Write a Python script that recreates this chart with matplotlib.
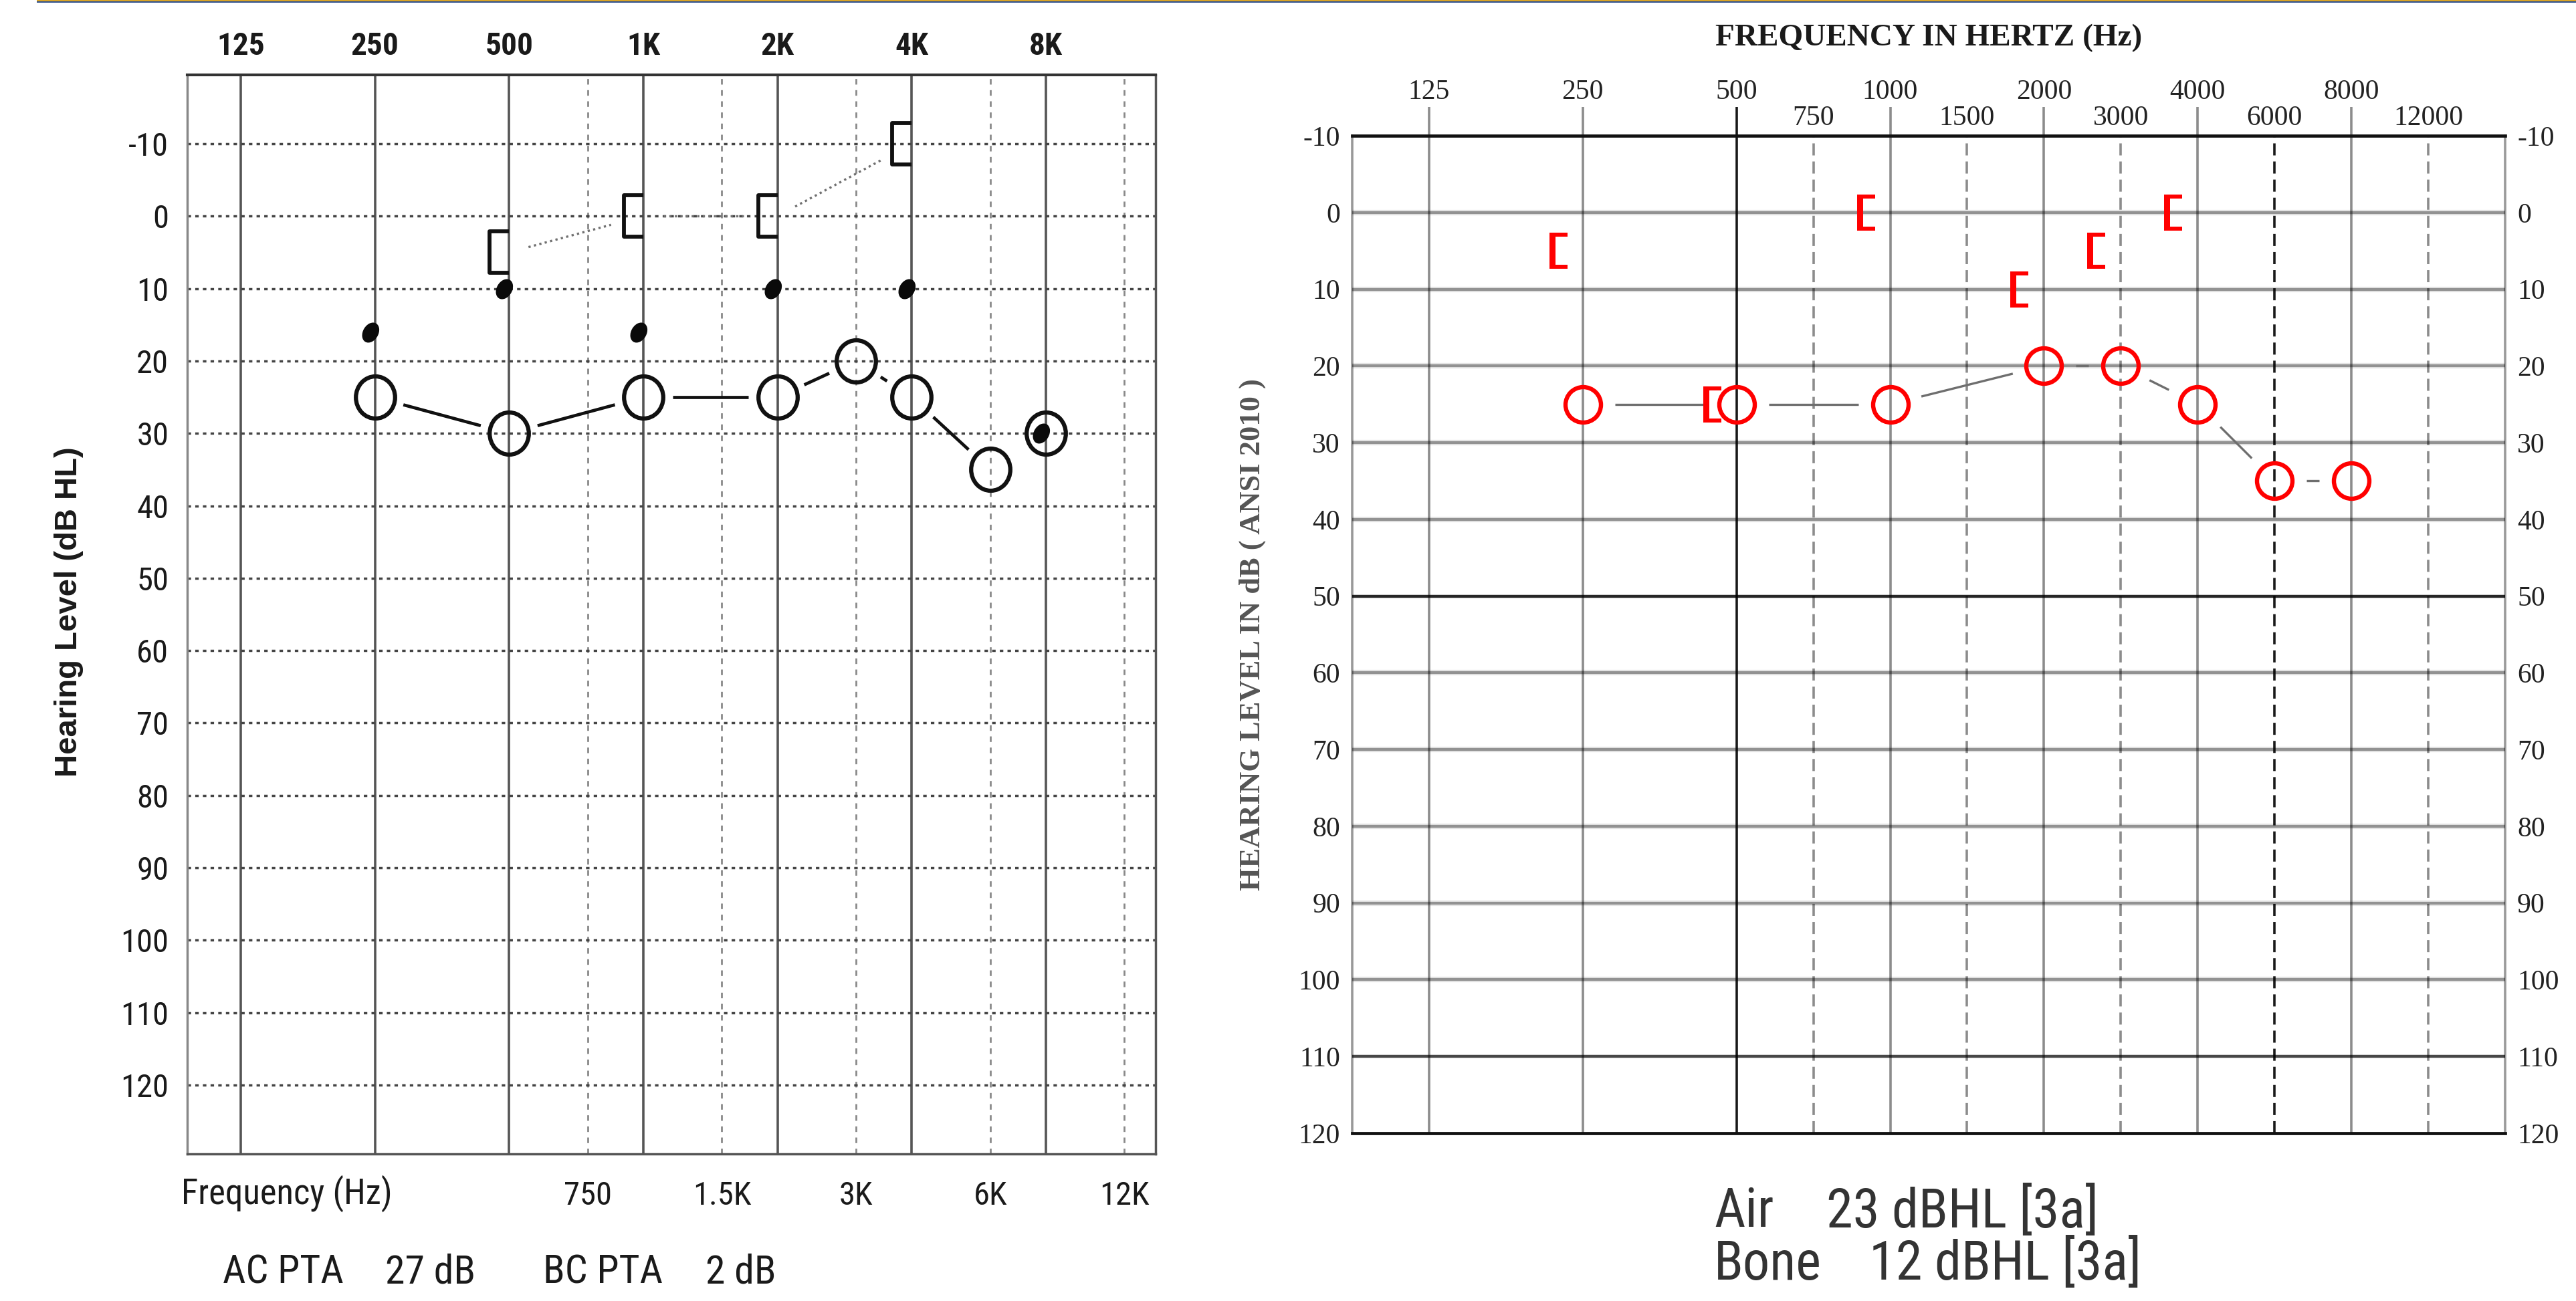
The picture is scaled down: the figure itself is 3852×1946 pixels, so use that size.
import numpy as np
import matplotlib
matplotlib.use('Agg')
import matplotlib.pyplot as plt
from matplotlib import font_manager as fm
from matplotlib.path import Path
from matplotlib.transforms import Affine2D
from matplotlib.patches import Rectangle

# ---------------- data ----------------
# Left audiogram (scanned form)
left_top_freqs = [125, 250, 500, 1000, 2000, 4000, 8000]
left_top_labels = ['125', '250', '500', '1K', '2K', '4K', '8K']
left_mid_freqs = [750, 1500, 3000, 6000, 12000]
left_mid_labels = ['750', '1.5K', '3K', '6K', '12K']
left_db_ticks = list(range(-10, 121, 10))

left_ac_freqs = [250, 500, 1000, 2000, 3000, 4000, 6000, 8000]
left_ac_db = [25, 30, 25, 25, 20, 25, 35, 30]
left_ac_joined = [True, True, True, True, True, True, False]
left_bc_freqs = [500, 1000, 2000, 4000]
left_bc_db = [5, 0, 0, -10]
left_dot_freqs = [250, 500, 1000, 2000, 4000, 8000]
left_dot_db = [16, 10, 16, 10, 10, 30]

# Right audiogram
right_top_freqs = [125, 250, 500, 1000, 2000, 4000, 8000]
right_top_labels = ['125', '250', '500', '1000', '2000', '4000', '8000']
right_mid_freqs = [750, 1500, 3000, 6000, 12000]
right_mid_labels = ['750', '1500', '3000', '6000', '12000']
right_db_ticks = list(range(-10, 121, 10))
right_ac_freqs = [250, 500, 1000, 2000, 3000, 4000, 6000, 8000]
right_ac_db = [25, 25, 25, 20, 20, 25, 35, 35]
right_bc_freqs = [250, 500, 1000, 2000, 3000, 4000]
right_bc_db = [5, 25, 0, 10, 5, 0]

left_summary = [('AC PTA', 333), ('27 dB', 576), ('BC PTA', 812), ('2 dB', 1055)]
right_summary = [('Air', 2563, 1813), ('23 dBHL [3a]', 2731, 1813),
                 ('Bone', 2563, 1892), ('12 dBHL [3a]', 2795, 1892)]

# ---------------- setup ----------------
W, H, DPI = 3852, 1946, 100
names = {f.name for f in fm.fontManager.ttflist}
def pick(cands):
    for c in cands:
        if c in names:
            return c
    return 'DejaVu Sans'
NARROW = pick(['Liberation Sans Narrow', 'Arial Narrow', 'Roboto Condensed', 'Liberation Sans'])
SANS = pick(['Liberation Sans', 'Open Sans', 'DejaVu Sans'])
SERIF = pick(['Liberation Serif', 'DejaVu Serif'])

fig = plt.figure(figsize=(W / DPI, H / DPI), dpi=DPI)
fig.patch.set_facecolor('white')

def ftext(x, y, s, **kw):
    return fig.text(x / W, 1 - y / H, s, **kw)

def px_marker(verts, codes=None):
    verts = np.asarray(verts, float)
    m = np.abs(verts).max()
    return Path(verts, codes), 2 * m * 72 / DPI

def gapped(ax, xs, ys, g0, g1, joined=None, **kw):
    T = ax.transData
    pts = T.transform(np.column_stack([xs, ys]))
    inv = T.inverted()
    for i in range(len(xs) - 1):
        if joined is not None and not joined[i]:
            continue
        p0, p1 = pts[i], pts[i + 1]
        d = p1 - p0
        u = d / np.hypot(*d)
        q = inv.transform(np.array([p0 + u * g0, p1 - u * g1]))
        ax.plot(q[:, 0], q[:, 1], solid_capstyle='butt', **kw)

# top decorative rule
fig.patches.append(Rectangle((55 / W, 1 - 1.6 / H), 1, 1.6 / H, transform=fig.transFigure,
                             color='#d9a426', lw=0))
fig.patches.append(Rectangle((55 / W, 1 - 4.2 / H), 1, 2.6 / H, transform=fig.transFigure,
                             color='#2d4f8e', lw=0))

# ---------------- left chart ----------------
axL = fig.add_axes([280 / W, 1 - 1726 / H, (1728 - 280) / W, (1726 - 112) / H])
axL.set_xscale('log', base=2)
axL.set_xlim(94.8, 14100)
axL.set_ylim(129.5, -19.5)

for f in left_top_freqs:
    axL.axvline(f, color='#555555', lw=2.6, zorder=1)
for f in left_mid_freqs:
    axL.axvline(f, color='#8a8a8a', lw=2.0, dashes=(3, 3), zorder=1)
for db in left_db_ticks:
    axL.axhline(db, color='#444444', lw=2.5, dashes=(1.5, 1.8), zorder=1)

axL.set_xticks(left_top_freqs, left_top_labels)
axL.set_xticks(left_mid_freqs, left_mid_labels, minor=True)
axL.set_yticks(left_db_ticks, [str(v) for v in left_db_ticks])
axL.tick_params(axis='x', which='major', top=True, bottom=False, labeltop=True,
                labelbottom=False, length=0, pad=15, labelsize=34,
                labelfontfamily=NARROW, labelcolor='#1a1a1a')
axL.tick_params(axis='x', which='minor', top=False, bottom=True, labeltop=False,
                labelbottom=True, length=0, pad=29, labelsize=35,
                labelfontfamily=NARROW, labelcolor='#1a1a1a')
axL.tick_params(axis='y', length=0, pad=20, labelsize=35, labelfontfamily=NARROW,
                labelcolor='#1a1a1a')
for lab in axL.get_xticklabels():
    lab.set_fontweight('bold')
axL.spines['top'].set_color('#333333'); axL.spines['top'].set_linewidth(3)
axL.spines['bottom'].set_color('#555555'); axL.spines['bottom'].set_linewidth(2.5)
axL.spines['left'].set_color('#888888'); axL.spines['left'].set_linewidth(2.5)
axL.spines['right'].set_color('#555555'); axL.spines['right'].set_linewidth(2.5)

# markers
ell = Path.unit_circle().transformed(Affine2D().scale(0.93, 1.0))
circL_ms = 63 * 72 / DPI
gapped(axL, left_ac_freqs, left_ac_db, 44, 44, joined=left_ac_joined,
       color='#111111', lw=3.4, zorder=3)
axL.plot(left_ac_freqs, left_ac_db, ls='none', marker=ell, ms=circL_ms, mfc='none',
         mec='#111111', mew=4.5, zorder=4)

brL, brL_ms = px_marker([(0, 31), (-29, 31), (-29, -31), (0, -31)],
                        [Path.MOVETO, Path.LINETO, Path.LINETO, Path.LINETO])
gapped(axL, left_bc_freqs, left_bc_db, 30, 50, color='#707070', lw=2.4,
       dashes=(1, 1.5), zorder=3)
axL.plot(left_bc_freqs, left_bc_db, ls='none', marker=brL, ms=brL_ms, mfc='none',
         mec='#111111', mew=4.2, zorder=4)

blob_v = Path.unit_circle().transformed(
    Affine2D().scale(0.72, 1.0).rotate_deg(-30).translate(-0.45, 0)).vertices * 16
blob, blob_ms = px_marker(blob_v, Path.unit_circle().codes)
axL.plot(left_dot_freqs, left_dot_db, ls='none', marker=blob, ms=blob_ms, mfc='#0a0a0a',
         mec='none', mew=0, zorder=5)

ftext(103, 915, 'Hearing Level (dB HL)', rotation=90, ha='center', va='center',
      fontsize=34, fontfamily=SANS, fontweight='bold', color='#1a1a1a')
ftext(271, 1785, 'Frequency (Hz)', ha='left', va='center', fontsize=38,
      fontfamily=NARROW, color='#1a1a1a')
for s, x in left_summary:
    ftext(x, 1903, s, ha='left', va='center', fontsize=43, fontfamily=NARROW,
          color='#1a1a1a')

# ---------------- right chart ----------------
scale_f = np.array([125, 250, 500, 750, 1000, 1500, 2000, 3000, 4000, 6000, 8000, 12000], float)
scale_s = np.array([0, 2, 4, 5, 6, 7, 8, 9, 10, 11, 12, 13], float)
lf = np.log2(scale_f)
lf_ext = np.concatenate([[lf[0] - 0.5], lf, [lf[-1] + (lf[-1] - lf[-2])]])
s_ext = np.concatenate([[scale_s[0] - 1], scale_s, [scale_s[-1] + 1]])

def fwd(f):
    return np.interp(np.log2(np.clip(np.asarray(f, float), 1e-6, None)), lf_ext, s_ext)

def inv(s):
    return 2.0 ** np.interp(np.asarray(s, float), s_ext, lf_ext)

axR = fig.add_axes([2022 / W, 1 - 1695 / H, 1724 / W, (1695 - 203) / H])
axR.set_xscale('function', functions=(fwd, inv))
axR.set_xlim(float(inv(-1)), float(inv(14)))
axR.set_ylim(120, -10)

xt = axR.get_xaxis_transform()
for f in right_top_freqs:
    c = (0, 0, 0, 0.9) if f == 500 else (0, 0, 0, 0.45)
    axR.vlines(f, 0, 1.029, transform=xt, color=c, lw=2.6, clip_on=False, zorder=1)
for f in right_mid_freqs:
    c = (0, 0, 0, 0.9) if f == 6000 else (0, 0, 0, 0.45)
    axR.vlines(f, 0, 1, transform=xt, color=c, lw=2.6, linestyles=(0, (5, 2.5)), zorder=1)
for db in right_db_ticks:
    if db in (-10, 120):
        continue
    if db == 50:
        axR.axhline(db, color=(0, 0, 0, 0.85), lw=3.2, zorder=1)
    elif db == 110:
        axR.axhline(db, color=(0, 0, 0, 0.72), lw=3.2, zorder=1)
    else:
        axR.axhline(db, color=(0, 0, 0, 0.1), lw=6.0, zorder=1)
        axR.axhline(db, color=(0, 0, 0, 0.36), lw=3.0, zorder=1)

for side in ('top', 'bottom'):
    axR.spines[side].set_color('#111111'); axR.spines[side].set_linewidth(3.4)
for side in ('left', 'right'):
    axR.spines[side].set_color((0, 0, 0, 0.4)); axR.spines[side].set_linewidth(2.6)

axR.set_xticks(right_top_freqs, right_top_labels)
axR.set_xticks(right_mid_freqs, right_mid_labels, minor=True)
axR.set_yticks(right_db_ticks, [str(v) for v in right_db_ticks])
axR.tick_params(axis='x', which='major', top=True, bottom=False, labeltop=True,
                labelbottom=False, length=0, pad=33, labelsize=30,
                labelfontfamily=SERIF, labelcolor='#222222')
axR.tick_params(axis='x', which='minor', top=True, bottom=False, labeltop=True,
                labelbottom=False, length=0, pad=5, labelsize=30,
                labelfontfamily=SERIF, labelcolor='#222222')
axR.tick_params(axis='y', left=True, right=True, labelleft=True, labelright=True,
                length=0, pad=13, labelsize=30, labelfontfamily=SERIF,
                labelcolor='#222222')

gapped(axR, right_ac_freqs, right_ac_db, 48, 48, color='#6e6e6e', lw=2.4, zorder=3)
axR.plot(right_ac_freqs, right_ac_db, ls='none', marker='o', ms=53 * 72 / DPI, mfc='none',
         mec='#ff0000', mew=4.6, zorder=4)
brR, brR_ms = px_marker([(-50, 27), (-23, 27), (-23, 21), (-41, 21), (-41, -21), (-23, -21),
                         (-23, -27), (-50, -27), (-50, 27)],
                        [Path.MOVETO] + [Path.LINETO] * 7 + [Path.CLOSEPOLY])
axR.plot(right_bc_freqs, right_bc_db, ls='none', marker=brR, ms=brR_ms, mfc='#ff0000',
         mec='none', mew=0, zorder=4)

axR.text(0.5, 1.098, 'FREQUENCY IN HERTZ (Hz)', transform=axR.transAxes, ha='center',
         va='center', fontsize=34, fontfamily=SERIF, fontweight='bold', color='#1a1a1a')
ftext(1873, 949, 'HEARING LEVEL IN dB ( ANSI 2010 )', rotation=90, ha='center',
      va='center', fontsize=32, fontfamily=SERIF, fontweight='bold', color='#555555')
for s, x, y in right_summary:
    ftext(x, y, s, ha='left', va='center', fontsize=58, fontfamily=NARROW, color='#333333')

fig.savefig('out.png', dpi=DPI, facecolor='white')
